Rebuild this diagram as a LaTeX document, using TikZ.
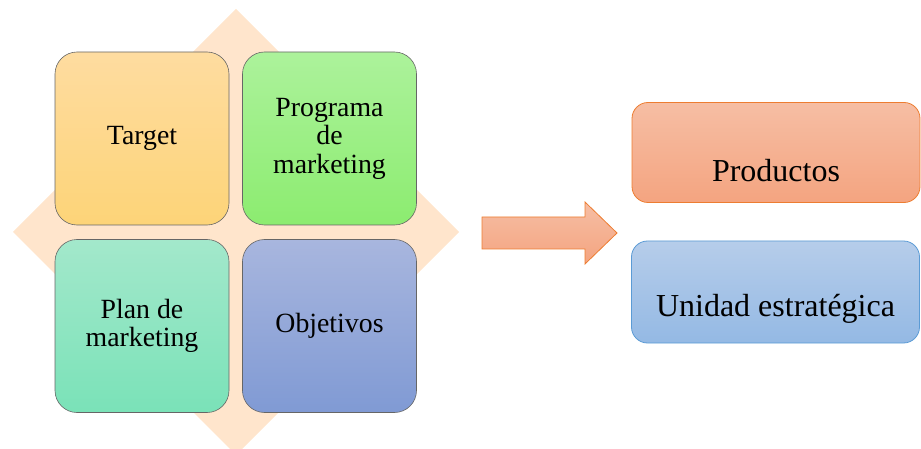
\documentclass[tikz,border=0pt]{standalone}
\usepackage{fontspec}
\setmainfont{Liberation Serif}
\usetikzlibrary{positioning}
\definecolor{diamondfill}{RGB}{255,229,204}
\definecolor{targettop}{RGB}{254,220,160}
\definecolor{targetbot}{RGB}{253,212,120}
\definecolor{progtop}{RGB}{172,242,155}
\definecolor{progbot}{RGB}{140,236,112}
\definecolor{plantop}{RGB}{163,232,203}
\definecolor{planbot}{RGB}{122,226,184}
\definecolor{objtop}{RGB}{168,182,222}
\definecolor{objbot}{RGB}{128,154,212}
\definecolor{prodtop}{RGB}{246,190,164}
\definecolor{prodbot}{RGB}{244,164,128}
\definecolor{prodline}{RGB}{237,125,49}
\definecolor{unitop}{RGB}{182,205,234}
\definecolor{unibot}{RGB}{148,185,228}
\definecolor{uniline}{RGB}{91,155,213}
\begin{document}
\begin{tikzpicture}[x=1pt, y=-1pt, quad box/.style={rectangle, rounded corners=22pt, draw=black!60, line width=.6pt, minimum width=174pt, minimum height=173pt, align=center, inner sep=2pt, font=\fontsize{27.8}{28.5}\selectfont}, side box/.style={rectangle, rounded corners=16pt, line width=.8pt, minimum width=288pt, minimum height=100pt}, side text/.style={font=\fontsize{32}{36}\selectfont}]%
\useasboundingbox (0,0) rectangle (921,449);
\begin{scope}
\fill[diamondfill] (236,9) -- (459,232) -- (236,455) -- (13,232) -- cycle;
\end{scope}
\begin{scope}
\node[quad box, top color=targettop, bottom color=targetbot] (target) at (142,138.5) {Target};
\node[quad box, top color=progtop, bottom color=progbot] (programa) at (329.5,138.5) {Programa\\de\\marketing};
\node[quad box, top color=plantop, bottom color=planbot] (plan) at (142,326) {Plan de\\marketing};
\node[quad box, top color=objtop, bottom color=objbot] (objetivos) at (329.5,326) {Objetivos};
\end{scope}
\begin{scope}
\draw[prodline, line width=.8pt, top color=prodtop, bottom color=prodbot] (482,217) -- (585,217) -- (585,202) -- (617,233) -- (585,264) -- (585,249) -- (482,249) -- cycle;
\end{scope}
\begin{scope}
\node[side box, draw=prodline, top color=prodtop, bottom color=prodbot] (productos) at (776,152.5) {};
\node[side box, draw=uniline, top color=unitop, bottom color=unibot, minimum height=102pt] (unidad) at (775.5,292) {};
\node[side text] at ([yshift=-18pt]productos.center) {Productos};
\node[side text] at ([yshift=-17pt]unidad.center) {Unidad estratégica};
\end{scope}
\end{tikzpicture}
\end{document}
